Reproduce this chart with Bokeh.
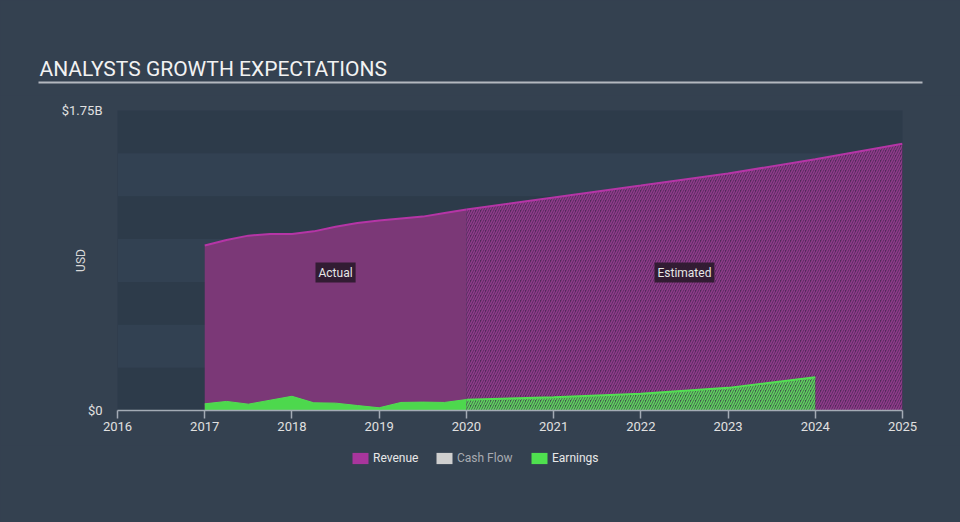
from bokeh.plotting import figure
from bokeh.layouts import column
from bokeh.models import (FixedTicker, Label, Legend, LegendItem, BoxAnnotation, Range1d,
                          InlineStyleSheet, Plot)
from bokeh.embed import file_html
from bokeh.resources import INLINE

# ---- data (values in billions USD) ----
rev_actual_x = [2017.0, 2017.25, 2017.5, 2017.75, 2018.0, 2018.25, 2018.5, 2018.75,
                2019.0, 2019.25, 2019.5, 2019.75, 2020.0]
rev_actual_y = [0.963, 0.995, 1.020, 1.030, 1.030, 1.045, 1.072, 1.094,
                1.108, 1.120, 1.131, 1.152, 1.172]
rev_est_x = [2020.0, 2021.0, 2022.0, 2023.0, 2024.0, 2025.0]
rev_est_y = [1.172, 1.243, 1.312, 1.383, 1.465, 1.556]

earn_actual_x = [2017.0, 2017.25, 2017.5, 2017.75, 2018.0, 2018.25, 2018.5, 2018.75,
                 2019.0, 2019.25, 2019.5, 2019.75, 2020.0]
earn_actual_y = [0.039, 0.053, 0.037, 0.060, 0.083, 0.045, 0.043, 0.029,
                 0.016, 0.047, 0.049, 0.047, 0.064]
earn_est_x = [2020.0, 2021.0, 2022.0, 2023.0, 2024.0]
earn_est_y = [0.062, 0.078, 0.097, 0.132, 0.194]

x_ticks = [2016, 2017, 2018, 2019, 2020, 2021, 2022, 2023, 2024, 2025]
y_tick_values = [0, 1.75]
y_tick_labels = ["$0", "$1.75B"]
band_interval = 0.25

title_text = "ANALYSTS GROWTH EXPECTATIONS"
legend_names = ["Revenue", "Cash Flow", "Earnings"]
legend_colors = ["#a8359c", "#cfcfcf", "#4fe04f"]
legend_text_colors = ["#e8e8e8", "#a8abb0", "#e8e8e8"]

BG = "#344150"
W = 960
HAS_FRAME_ALIGN = "frame_align" in Plot.properties()


def bg_sheet():
    return InlineStyleSheet(css=":host { background-color: %s; }" % BG)


def blank(height):
    f = figure(width=W, height=height, x_range=Range1d(0, W), y_range=Range1d(0, height),
               x_axis_location=None, y_axis_location=None, output_backend="svg",
               toolbar_location=None, min_border=0, title=None)
    f.grid.visible = False
    f.outline_line_color = None
    f.background_fill_color = BG
    f.border_fill_color = BG
    f.stylesheets = [bg_sheet()]
    if HAS_FRAME_ALIGN:
        f.frame_align = False
    return f


# ---- header: title + underline ----
header = blank(95)
header.add_layout(Label(x=39, y=27, x_units="screen", y_units="screen", text=title_text,
                        text_font="Roboto", text_font_size="21px", text_color="#f2f2f2",
                        text_baseline="alphabetic"))
header.add_layout(BoxAnnotation(left=38, right=922, bottom=12, top=14,
                                fill_color="#b3b8bf", fill_alpha=1, line_alpha=0))

# ---- main chart ----
p = figure(width=W, height=350, x_range=Range1d(2016, 2025), y_range=Range1d(0, 1.75),
           output_backend="svg", toolbar_location=None, title=None,
           min_border_left=117, min_border_right=58, min_border_top=15, min_border_bottom=35)
p.border_fill_color = BG
p.background_fill_color = "#2d3b4a"
p.outline_line_color = None
p.stylesheets = [bg_sheet()]
if HAS_FRAME_ALIGN:
    p.frame_align = False

p.xgrid.visible = False
p.ygrid.ticker = FixedTicker(ticks=[i * band_interval for i in range(int(1.75 / band_interval) + 1)])
p.ygrid.grid_line_alpha = 0
p.ygrid.band_fill_color = "#324152"
p.ygrid.band_fill_alpha = 1.0

# x axis
p.xaxis.ticker = FixedTicker(ticks=x_ticks)
p.xaxis.major_label_overrides = {t: str(t) for t in x_ticks}
p.xaxis.axis_line_color = "#a3abb5"
p.xaxis.axis_line_width = 1.5
p.xaxis.major_tick_line_color = "#a3abb5"
p.xaxis.major_tick_line_width = 1.5
p.xaxis.major_tick_in = 0
p.xaxis.major_tick_out = 8
p.xaxis.minor_tick_line_color = None
p.xaxis.major_label_standoff = 3
p.xaxis.major_label_text_font = "Roboto"
p.xaxis.major_label_text_font_size = "13px"
p.xaxis.major_label_text_color = "#e0e0e0"

# y axis
p.yaxis.ticker = FixedTicker(ticks=y_tick_values)
p.yaxis.major_label_overrides = dict(zip(y_tick_values, y_tick_labels))
p.yaxis.axis_line_color = None
p.yaxis.major_tick_line_color = None
p.yaxis.minor_tick_line_color = None
p.yaxis.major_tick_in = 0
p.yaxis.major_tick_out = 0
p.yaxis.major_label_standoff = 15
p.yaxis.major_label_text_font = "Roboto"
p.yaxis.major_label_text_font_size = "13px"
p.yaxis.major_label_text_color = "#e0e0e0"
p.yaxis.axis_label = "USD"
p.yaxis.axis_label_standoff = -29
p.yaxis.axis_label_text_font = "Roboto"
p.yaxis.axis_label_text_font_size = "12px"
p.yaxis.axis_label_text_font_style = "normal"
p.yaxis.axis_label_text_color = "#d8d8d8"

# ---- revenue ----
p.varea(x=rev_actual_x, y1=0, y2=rev_actual_y, fill_color="#7b3877")
p.varea(x=rev_est_x, y1=0, y2=rev_est_y, fill_color="#52295a",
        hatch_pattern="/", hatch_color="#8e3b8a", hatch_scale=5, hatch_weight=1.6)
p.line(x=rev_actual_x, y=rev_actual_y, line_color="#b535a6", line_width=2)
p.line(x=rev_est_x, y=rev_est_y, line_color="#b535a6", line_width=2)

# ---- earnings ----
p.varea(x=earn_actual_x, y1=0, y2=earn_actual_y, fill_color="#4dd84d")
p.line(x=earn_actual_x, y=earn_actual_y, line_color="#52dc52", line_width=1)
p.varea(x=earn_est_x, y1=0, y2=earn_est_y, fill_color="#3f5a4a",
        hatch_pattern="/", hatch_color="#5fd05f", hatch_scale=5, hatch_weight=1.6)
p.line(x=earn_est_x, y=earn_est_y, line_color="#52e052", line_width=2)

# ---- Actual / Estimated labels ----
for xv, txt in [((rev_actual_x[0] + rev_actual_x[-1]) / 2, "Actual"),
                ((rev_est_x[0] + rev_est_x[-1]) / 2, "Estimated")]:
    p.add_layout(Label(x=xv, y=0.805, text=txt, text_align="center", text_baseline="middle",
                       text_font="Roboto", text_font_size="12px", text_color="#e6e6e6",
                       background_fill_color="#2a1a2b", background_fill_alpha=0.9,
                       padding=3))

# ---- footer: legend ----
footer = blank(77)
off = 0 if HAS_FRAME_ALIGN else 117
leg_x = [350, 434, 529]
for name, col, tcol, lx in zip(legend_names, legend_colors, legend_text_colors, leg_x):
    # invisible zero-size swatch renderer, only used to style the legend glyph
    r = footer.quad(left=[0], right=[0], top=[0], bottom=[0], fill_color=col, line_alpha=0,
                    fill_alpha=1)
    lg = Legend(items=[LegendItem(label=name, renderers=[r])], location=(lx - off, 57),
                orientation="horizontal", glyph_width=20, glyph_height=14,
                label_standoff=3, padding=0, margin=0, spacing=0,
                label_text_font="Roboto", label_text_font_size="12px",
                label_text_color=tcol, background_fill_alpha=0, border_line_alpha=0)
    footer.add_layout(lg)

layout = column(header, p, footer, spacing=0)
layout.stylesheets = [bg_sheet()]
open("out.html", "w").write(file_html(layout, INLINE))
